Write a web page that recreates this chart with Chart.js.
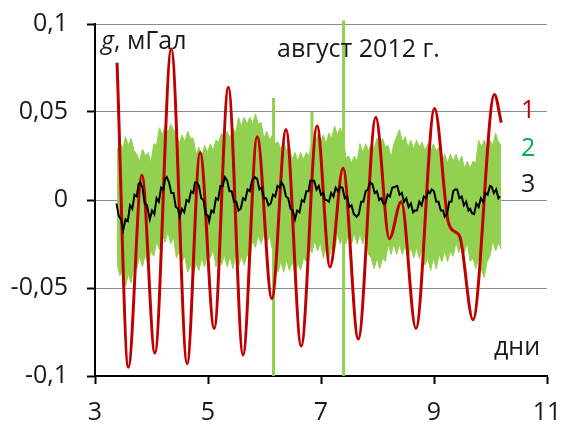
<!DOCTYPE html>
<html><head><meta charset="utf-8">
<script src="https://cdn.jsdelivr.net/npm/chart.js@4"></script>
<style>html,body{margin:0;padding:0;background:#fff}canvas{display:block}</style>
</head><body>
<canvas id="c" width="563" height="424"></canvas>
<script>
// Tick labels
const xTicks = [3, 5, 7, 9, 11];
const yTicks = [-0.1, -0.05, 0, 0.05, 0.1];

// Series 1 (red): theoretical tide, turning points
const redX = [3.39, 3.59, 3.83, 4.06, 4.35, 4.63, 4.86, 5.11, 5.36, 5.62, 5.87, 6.13, 6.38, 6.65, 6.93, 7.16, 7.39, 7.66, 7.97, 8.21, 8.42, 8.68, 9.01, 9.25, 9.37, 9.46, 9.69, 10.07, 10.19];
const redY = [0.078, -0.095, 0.014, -0.087, 0.086, -0.093, 0.027, -0.073, 0.064, -0.088, 0.036, -0.056, 0.040, -0.083, 0.042, -0.038, 0.018, -0.079, 0.047, -0.022, -0.001, -0.073, 0.052, -0.012, -0.018, -0.021, -0.068, 0.060, 0.044];

// Series 2 (green): noisy record, upper / lower envelope
const greenX = [3.39,3.44,3.49,3.54,3.59,3.64,3.69,3.74,3.79,3.84,3.89,3.94,3.99,4.04,4.09,4.14,4.19,4.24,4.29,4.34,4.39,4.44,4.49,4.54,4.59,4.64,4.69,4.74,4.79,4.84,4.89,4.94,4.99,5.04,5.09,5.14,5.19,5.24,5.29,5.34,5.39,5.44,5.49,5.54,5.59,5.64,5.69,5.74,5.79,5.84,5.89,5.94,5.99,6.04,6.09,6.14,6.19,6.24,6.29,6.34,6.39,6.44,6.49,6.54,6.59,6.64,6.69,6.74,6.79,6.84,6.89,6.94,6.99,7.04,7.09,7.14,7.19,7.24,7.29,7.34,7.39,7.44,7.49,7.54,7.59,7.64,7.69,7.74,7.79,7.84,7.89,7.94,7.99,8.04,8.09,8.14,8.19,8.24,8.29,8.34,8.39,8.44,8.49,8.54,8.59,8.64,8.69,8.74,8.79,8.84,8.89,8.94,8.99,9.04,9.09,9.14,9.19,9.24,9.29,9.34,9.39,9.44,9.49,9.54,9.59,9.64,9.69,9.74,9.79,9.84,9.89,9.94,9.99,10.04,10.09,10.14,10.19];
const greenHi = [0.028,0.033,0.029,0.036,0.031,0.035,0.028,0.026,0.022,0.029,0.025,0.027,0.021,0.032,0.031,0.041,0.037,0.042,0.038,0.043,0.040,0.038,0.032,0.037,0.033,0.039,0.035,0.035,0.026,0.030,0.025,0.031,0.027,0.032,0.028,0.034,0.033,0.038,0.034,0.039,0.035,0.041,0.038,0.047,0.042,0.047,0.043,0.047,0.043,0.049,0.043,0.044,0.035,0.039,0.034,0.037,0.032,0.033,0.029,0.033,0.028,0.031,0.023,0.027,0.022,0.027,0.023,0.027,0.025,0.034,0.031,0.037,0.033,0.037,0.032,0.038,0.035,0.042,0.037,0.041,0.036,0.024,0.025,0.021,0.025,0.022,0.032,0.027,0.032,0.028,0.032,0.029,0.035,0.031,0.035,0.030,0.031,0.024,0.032,0.036,0.040,0.033,0.036,0.030,0.034,0.029,0.034,0.030,0.033,0.028,0.032,0.027,0.032,0.028,0.030,0.022,0.026,0.021,0.026,0.022,0.026,0.021,0.025,0.018,0.022,0.018,0.022,0.021,0.034,0.030,0.034,0.029,0.034,0.031,0.038,0.033,0.031];
const greenLo = [-0.036,-0.043,-0.040,-0.049,-0.042,-0.047,-0.037,-0.039,-0.032,-0.038,-0.031,-0.037,-0.029,-0.032,-0.024,-0.028,-0.019,-0.024,-0.018,-0.025,-0.021,-0.033,-0.029,-0.035,-0.032,-0.041,-0.037,-0.043,-0.036,-0.040,-0.033,-0.038,-0.030,-0.033,-0.028,-0.038,-0.032,-0.037,-0.031,-0.038,-0.032,-0.039,-0.031,-0.038,-0.032,-0.037,-0.031,-0.033,-0.023,-0.027,-0.020,-0.025,-0.019,-0.025,-0.020,-0.028,-0.033,-0.041,-0.035,-0.041,-0.034,-0.040,-0.035,-0.042,-0.036,-0.040,-0.033,-0.035,-0.027,-0.030,-0.023,-0.029,-0.024,-0.033,-0.027,-0.033,-0.027,-0.029,-0.019,-0.025,-0.020,-0.025,-0.019,-0.025,-0.019,-0.025,-0.019,-0.025,-0.019,-0.031,-0.033,-0.039,-0.033,-0.039,-0.033,-0.035,-0.025,-0.031,-0.025,-0.031,-0.025,-0.031,-0.026,-0.033,-0.027,-0.033,-0.027,-0.033,-0.028,-0.037,-0.033,-0.040,-0.033,-0.039,-0.031,-0.035,-0.029,-0.035,-0.029,-0.032,-0.024,-0.030,-0.024,-0.030,-0.024,-0.035,-0.033,-0.039,-0.033,-0.040,-0.044,-0.035,-0.032,-0.023,-0.029,-0.024,-0.028];
// Series 2 isolated spikes
const spikeX = [6.16, 6.84, 7.40];
const spikeTop = [0.058, 0.050, 0.102];
const spikeBottom = [-0.100, 0.000, -0.100];

// Series 3 (black)
const blackX = [3.38,3.42,3.46,3.50,3.54,3.58,3.62,3.66,3.70,3.74,3.77,3.80,3.84,3.88,3.92,3.97,4.01,4.05,4.09,4.13,4.17,4.21,4.24,4.27,4.31,4.35,4.39,4.43,4.47,4.50,4.54,4.58,4.62,4.66,4.70,4.74,4.77,4.80,4.84,4.88,4.92,4.96,5.00,5.02,5.06,5.10,5.14,5.18,5.22,5.26,5.30,5.34,5.38,5.42,5.46,5.50,5.54,5.58,5.62,5.66,5.70,5.74,5.78,5.83,5.87,5.91,5.95,5.99,6.03,6.07,6.11,6.15,6.19,6.23,6.27,6.30,6.34,6.38,6.42,6.46,6.50,6.54,6.58,6.62,6.66,6.70,6.74,6.78,6.81,6.84,6.88,6.92,6.96,7.00,7.04,7.07,7.10,7.14,7.18,7.22,7.26,7.30,7.34,7.38,7.42,7.46,7.50,7.54,7.58,7.63,7.67,7.71,7.75,7.79,7.83,7.87,7.91,7.95,7.99,8.03,8.07,8.10,8.14,8.18,8.22,8.26,8.31,8.35,8.39,8.43,8.47,8.51,8.55,8.59,8.63,8.66,8.70,8.74,8.78,8.82,8.86,8.90,8.93,8.96,9.00,9.04,9.08,9.12,9.16,9.19,9.23,9.27,9.31,9.34,9.37,9.41,9.45,9.49,9.53,9.57,9.61,9.64,9.67,9.71,9.75,9.79,9.83,9.87,9.91,9.95,9.99,10.02,10.06,10.10,10.14,10.17];
const blackY = [-0.002,-0.009,-0.011,-0.017,-0.011,-0.012,-0.003,-0.005,0.003,0.002,0.009,0.010,0.007,-0.002,-0.003,-0.011,-0.006,-0.008,0.001,-0.001,0.007,0.006,0.012,0.013,0.010,0.004,0.004,-0.004,-0.005,-0.0095,-0.005,-0.007,0.000,-0.001,0.005,0.004,0.010,0.010,0.008,0.001,0.000,-0.008,-0.009,-0.012,-0.006,-0.007,0.001,0.000,0.008,0.008,0.013,0.011,0.005,0.005,-0.001,-0.001,-0.006,-0.005,0.001,0.000,0.006,0.005,0.011,0.013,0.012,0.006,0.007,0.001,0.001,-0.003,-0.002,0.003,0.002,0.008,0.007,0.010,0.008,0.002,0.001,-0.005,-0.006,-0.011,-0.006,-0.007,0.000,-0.001,0.005,0.005,0.011,0.011,0.011,0.006,0.008,0.003,0.004,0.000,0.000,-0.001,0.004,0.002,0.007,0.005,0.0075,0.007,0.001,0.002,-0.004,-0.003,-0.008,-0.0095,-0.008,-0.001,-0.001,0.005,0.006,0.010,0.009,0.004,0.005,0.000,0.001,-0.002,-0.002,0.003,0.002,0.007,0.0075,0.008,0.003,0.004,-0.001,0.001,-0.004,-0.002,-0.007,-0.006,-0.006,-0.001,-0.003,0.002,0.001,0.005,0.004,0.006,0.005,-0.001,-0.001,-0.006,-0.006,-0.0095,-0.008,-0.001,-0.001,0.005,0.006,0.006,0.001,0.002,-0.003,-0.001,-0.006,-0.005,-0.0075,-0.008,-0.002,-0.004,0.001,-0.001,0.004,0.003,0.008,0.0075,0.004,0.006,0.001,0.002];

const FONT = '"Open Sans", sans-serif';
const pts = (xs, ys) => xs.slice(0, Math.min(xs.length, ys.length)).map((x, i) => ({x, y: ys[i]}));
const fmt = v => { const r = Math.round(v * 1000) / 1000; return (r === 0 ? '0' : String(r)).replace('.', ','); };

const datasets = [
  {data: pts(greenX, greenHi), borderColor: '#92d050', backgroundColor: '#92d050', borderWidth: 1, fill: '+1', order: 10},
  {data: pts(greenX, greenLo), borderColor: '#92d050', backgroundColor: '#92d050', borderWidth: 1, fill: false, order: 9}
];
spikeX.forEach((x, i) => {
  datasets.push({data: [{x, y: spikeTop[i]}, {x, y: spikeBottom[i]}], borderColor: '#92d050', borderWidth: 3, fill: false, clip: false, order: 8});
});
datasets.push({data: pts(redX, redY), borderColor: '#c00000', borderWidth: 3, cubicInterpolationMode: 'monotone', fill: false, order: 2});
datasets.push({data: pts(blackX, blackY), borderColor: '#000000', borderWidth: 2, fill: false, order: 1});

const labelsPlugin = {
  id: 'labels',
  afterDraw(chart) {
    const ctx = chart.ctx;
    ctx.save();
    ctx.textBaseline = 'alphabetic';
    ctx.textAlign = 'left';
    ctx.fillStyle = '#1a1a1a';
    ctx.font = 'italic 25px ' + FONT;
    ctx.fillText('g', 101, 49);
    const gw = ctx.measureText('g').width;
    ctx.font = '25px ' + FONT;
    ctx.fillText(', мГал', 101 + gw, 49);
    ctx.fillText('август 2012 г.', 277, 57);
    ctx.fillText('дни', 494, 355);
    ctx.fillStyle = '#c00000'; ctx.fillText('1', 521, 118);
    ctx.fillStyle = '#00b050'; ctx.fillText('2', 521, 156);
    ctx.fillStyle = '#1a1a1a'; ctx.fillText('3', 521, 192);
    ctx.restore();
  }
};

function draw() {
  new Chart(document.getElementById('c'), {
    type: 'line',
    data: {datasets},
    plugins: [labelsPlugin],
    options: {
      responsive: false,
      animation: false,
      events: [],
      layout: {autoPadding: false, padding: {top: 24, right: 16, left: 0, bottom: 0}},
      elements: {point: {radius: 0}, line: {tension: 0}},
      plugins: {legend: {display: false}, tooltip: {enabled: false}},
      scales: {
        x: {
          type: 'linear', min: 3, max: 11,
          afterBuildTicks: s => { s.ticks = xTicks.map(v => ({value: v})); },
          afterFit: s => { s.height = 48; s.paddingLeft = 0; s.paddingRight = 0; },
          grid: {drawOnChartArea: false, drawTicks: true, tickLength: 8, tickColor: '#000', tickWidth: 2},
          border: {color: '#000', width: 2},
          ticks: {font: {family: FONT, size: 25}, color: '#1a1a1a', padding: 14, maxRotation: 0, callback: v => fmt(v)}
        },
        y: {
          type: 'linear', min: -0.1, max: 0.1,
          afterBuildTicks: s => { s.ticks = yTicks.map(v => ({value: v})); },
          afterFit: s => { s.width = 95; s.paddingTop = 0; s.paddingBottom = 0; },
          grid: {color: '#8c8c8c', lineWidth: 1, drawTicks: true, tickLength: 8, tickColor: '#000', tickWidth: 2},
          border: {color: '#000', width: 2},
          ticks: {font: {family: FONT, size: 25}, color: '#1a1a1a', padding: 19, callback: v => fmt(v)}
        }
      }
    }
  });
}
if (document.fonts && document.fonts.load) {
  Promise.all([document.fonts.load('25px "Open Sans"'), document.fonts.load('italic 25px "Open Sans"')]).then(draw, draw);
} else { draw(); }
</script>
</body></html>
